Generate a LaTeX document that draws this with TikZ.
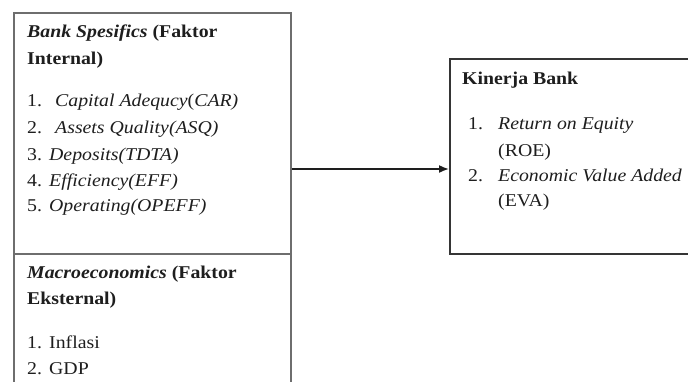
\documentclass[tikz,border=0pt]{standalone}
\usepackage{fontspec}
\setmainfont[FakeStretch=1.1]{Liberation Serif}
\usetikzlibrary{arrows.meta}
\definecolor{boxgray}{HTML}{6E6E6E}
\definecolor{ink}{HTML}{1E1E1E}
\tikzset{
  txt/.style={anchor=base west, inner sep=0pt, font=\fontsize{18}{22}\selectfont, text=ink},
  leftbox/.style={draw=boxgray, line width=2pt, inner sep=0pt},
  rightbox/.style={draw=ink!90, line width=1.6pt, inner sep=0pt},
  conn/.style={draw=ink, line width=1.6pt, -{Latex[length=10pt,width=8pt]}}
}
\begin{document}
\begin{tikzpicture}[x=1pt,y=-1pt]
\useasboundingbox (0,0) rectangle (688,381);
\clip (0,0) rectangle (688,381);
\fill[white] (0,0) rectangle (688,381);
% boxes
\node[leftbox, minimum width=277pt, minimum height=240.5pt, anchor=north west] (internal) at (13,12) {};
\node[leftbox, minimum width=277pt, minimum height=150pt, anchor=north west] (eksternal) at (13,252.5) {};
\node[rightbox, minimum width=260pt, minimum height=195pt, anchor=north west] (kinerja) at (449,58) {};
% connector
\draw[conn] (internal.east |- 0,169) -- (kinerja.west |- 0,169);
% left top texts
\node[txt] (t1) at (27,37) {\textbf{\textit{Bank Spesifics}} \textbf{(Faktor}};
\node[txt] (t2) at (27,64) {\textbf{Internal)}};
\node[txt] (i1n) at (27,106) {1.};
\node[txt] (i1) at (55,106) {\textit{Capital Adequcy}(\textit{CAR)}};
\node[txt] (i2n) at (27,133) {2.};
\node[txt] (i2) at (55,133) {\textit{Assets Quality(ASQ)}};
\node[txt] (i3n) at (27,160) {3.};
\node[txt] (i3) at (49,160) {\textit{Deposits(TDTA)}};
\node[txt] (i4n) at (27,186) {4.};
\node[txt] (i4) at (49,186) {\textit{Efficiency(EFF)}};
\node[txt] (i5n) at (27,211) {5.};
\node[txt] (i5) at (49,211) {\textit{Operating(OPEFF)}};
% left bottom texts
\node[txt] (e1) at (27,278) {\textbf{\textit{Macroeconomics}} \textbf{(Faktor}};
\node[txt] (e2) at (27,304) {\textbf{Eksternal)}};
\node[txt] (m1n) at (27,348) {1.};
\node[txt] (m1) at (49,348) {Inflasi};
\node[txt] (m2n) at (27,374) {2.};
\node[txt] (m2) at (49,374) {GDP};
% right texts
\node[txt] (k0) at (462,84) {\textbf{Kinerja Bank}};
\node[txt] (k1n) at (468,129) {1.};
\node[txt] (k1) at (498,129) {\textit{Return on Equity}};
\node[txt] (k1b) at (498,156) {(ROE)};
\node[txt] (k2n) at (468,181) {2.};
\node[txt] (k2) at (498,181) {\textit{Economic Value Added}};
\node[txt] (k2b) at (498,206) {(EVA)};
\end{tikzpicture}
\end{document}
